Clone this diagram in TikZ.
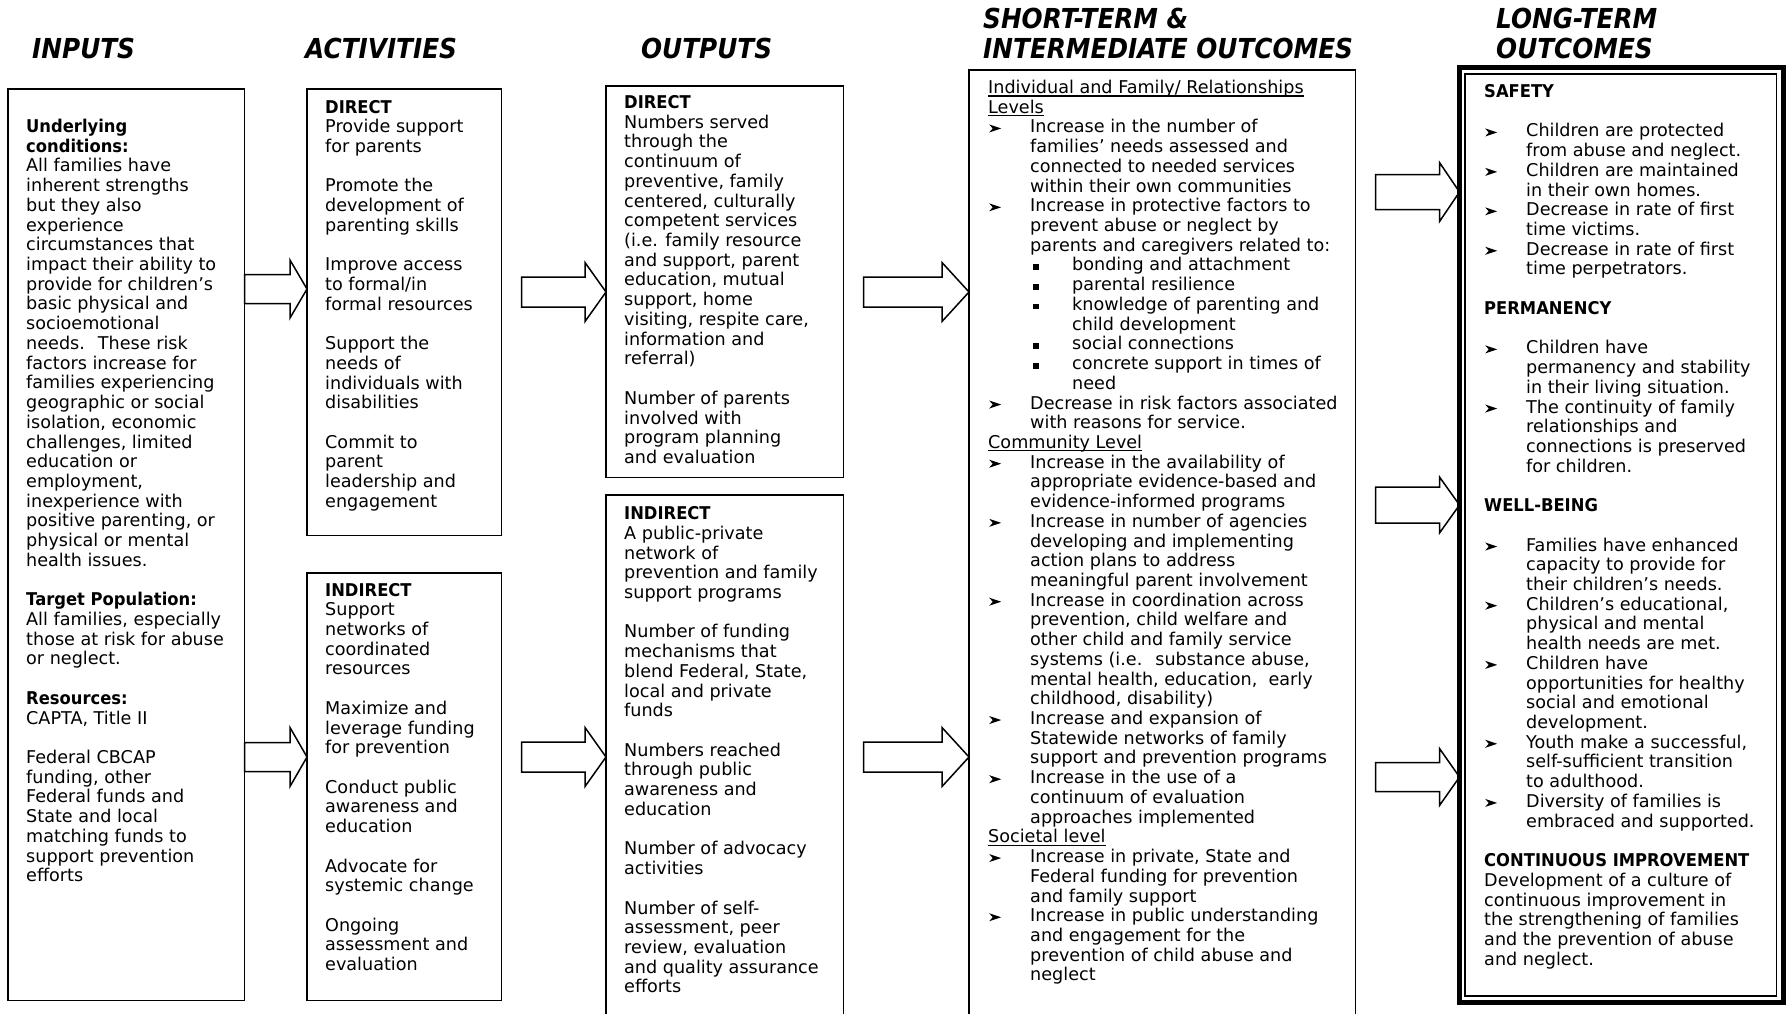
\documentclass[tikz,border=0pt]{standalone}
\usepackage{fontspec}
\setmainfont{DejaVu Sans}
\newfontfamily\bfc{DejaVu Sans}[FakeStretch=0.93]
\newfontfamily\hdf{DejaVu Sans}[FakeStretch=0.9]
\usetikzlibrary{calc}

\newcommand\hbf[1]{{\bfc\bfseries #1}}
\newcommand\hdrfont{\hdf\bfseries\itshape\fontsize{27.5pt}{30pt}\selectfont}
\newcommand\arrbul{\makebox[42pt][l]{\hspace{1pt}\tikz[x=1pt,y=1pt,baseline=0pt]\fill[black] (0,0.5)--(12,4.5)--(0,8.5)--(3.5,4.5)--cycle;}}
\newcommand\sqbul{\hspace*{45pt}\makebox[39pt][l]{\rule[1pt]{5.5pt}{5.5pt}}}
\newcommand\inda{\hspace*{42pt}}
\newcommand\indb{\hspace*{84pt}}
\newcommand\blankln{\mbox{}\\}
\newcommand\uln[1]{\leavevmode\setbox0\hbox{#1}\rlap{\rule[-3pt]{\wd0}{1.2pt}}\box0}
\newenvironment{bodytext}[1]{\begin{minipage}[t]{#1}\fontsize{17.6pt}{19.72pt}\selectfont\lineskiplimit=-100pt\lineskip=0pt\raggedright\parindent=0pt}{\end{minipage}}

% #1 from, #2 to, #3 gap, #4 y centre, #5 half shaft, #6 half head, #7 head length
\newcommand\blockarrow[7]{%
  \draw[barr] ($(#1.east |- 0,#4)+(#3,-#5)$) -- ($(#2.west |- 0,#4)+(-#7,-#5)$)
    -- ($(#2.west |- 0,#4)+(-#7,-#6)$) -- (#2.west |- 0,#4)
    -- ($(#2.west |- 0,#4)+(-#7,#6)$) -- ($(#2.west |- 0,#4)+(-#7,#5)$)
    -- ($(#1.east |- 0,#4)+(#3,#5)$) -- cycle;}

\tikzset{
  box/.style={draw, line width=1.6pt, inner sep=0pt, anchor=north west},
  txt/.style={anchor=base west, inner sep=0pt},
  hdr/.style={anchor=base west, inner sep=0pt, font=\hdrfont},
  barr/.style={draw, fill=white, line width=1.5pt, line join=miter},
}

\begin{document}
\begin{tikzpicture}[x=1pt,y=-1pt]
\useasboundingbox (0,0) rectangle (1786,1013);
\clip (0,0) rectangle (1786,1013);
\fill[white] (0,0) rectangle (1786,1013);

% headers
\node[hdr] (h1) at (32,58) {INPUTS};
\node[hdr] (h2) at (305,58) {ACTIVITIES};
\node[hdr] (h3) at (641,58) {OUTPUTS};
\node[hdr] (h4a) at (983,28) {SHORT-TERM \&};
\node[hdr] (h4b) at (983,58) {INTERMEDIATE OUTCOMES};
\node[hdr] (h5a) at (1496,28) {LONG-TERM};
\node[hdr] (h5b) at (1496,58) {OUTCOMES};

% boxes (coordinates only, drawn after arrows)
\path node[box, draw=none, minimum width=235pt, minimum height=910pt] (inp) at (8,89) {};
\path node[box, draw=none, minimum width=193pt, minimum height=445pt] (actd) at (307,89) {};
\path node[box, draw=none, minimum width=193pt, minimum height=426pt] (acti) at (307,573) {};
\path node[box, draw=none, minimum width=236pt, minimum height=390pt] (outd) at (606,86) {};
\path node[box, draw=none, minimum width=236pt, minimum height=560pt] (outi) at (606,495) {};
\path node[box, draw=none, minimum width=385pt, minimum height=990pt] (st) at (969,70) {};
\path node[box, draw=none, minimum width=322pt, minimum height=933pt] (lt) at (1459.5,67.5) {};

% block arrows
\blockarrow{inp}{actd}{0}{289}{14.5}{29}{17}
\blockarrow{inp}{acti}{0}{757}{14.5}{29.5}{17}
\blockarrow{actd}{outd}{20}{292}{15}{29.5}{21}
\blockarrow{acti}{outi}{20}{757}{15}{29.5}{21}
\blockarrow{outd}{st}{20}{292}{15}{29.5}{27}
\blockarrow{outi}{st}{20}{757}{15}{29.5}{27}
\blockarrow{st}{lt}{20}{192}{17.5}{29.5}{20}
\blockarrow{st}{lt}{20}{505}{18}{28}{20}
\blockarrow{st}{lt}{20}{777}{14.5}{28.5}{20}

% box outlines
\draw[line width=1.6pt] (inp.north west) rectangle (inp.south east);
\draw[line width=1.6pt] (actd.north west) rectangle (actd.south east);
\draw[line width=1.6pt] (acti.north west) rectangle (acti.south east);
\draw[line width=1.6pt] (outd.north west) rectangle (outd.south east);
\draw[line width=1.6pt] (outi.north west) rectangle (outi.south east);
\draw[line width=1.6pt] (st.north west) rectangle (st.south east);
\draw[line width=5pt] (lt.north west) rectangle (lt.south east);
\draw[line width=1.6pt] ([shift={(5.5,6.5)}]lt.north west) rectangle ([shift={(-6.5,-6)}]lt.south east);

% inputs text
\node[txt] (tin) at (26,132.5) {\begin{bodytext}{215pt}
\hbf{Underlying}\\
\hbf{conditions:}\\
All families have\\
inherent strengths\\
but they also\\
experience\\
circumstances that\\
impact their ability to\\
provide for children’s\\
basic physical and\\
socioemotional\\
needs.~ These risk\\
factors increase for\\
families experiencing\\
geographic or social\\
isolation, economic\\
challenges, limited\\
education or\\
employment,\\
inexperience with\\
positive parenting, or\\
physical or mental\\
health issues.\\
\blankln
\hbf{Target Population:}\\
All families, especially\\
those at risk for abuse\\
or neglect.\\
\blankln
\hbf{Resources:}\\
CAPTA, Title II\\
\blankln
Federal CBCAP\\
funding, other\\
Federal funds and\\
State and local\\
matching funds to\\
support prevention\\
efforts
\end{bodytext}};

% activities direct
\node[txt] (tad) at (325,113) {\begin{bodytext}{175pt}
\hbf{DIRECT}\\
Provide support\\
for parents\\
\blankln
Promote the\\
development of\\
parenting skills\\
\blankln
Improve access\\
to formal/in\\
formal resources\\
\blankln
Support the\\
needs of\\
individuals with\\
disabilities\\
\blankln
Commit to\\
parent\\
leadership and\\
engagement
\end{bodytext}};

% activities indirect
\node[txt] (tai) at (325,596) {\begin{bodytext}{175pt}
\hbf{INDIRECT}\\
Support\\
networks of\\
coordinated\\
resources\\
\blankln
Maximize and\\
leverage funding\\
for prevention\\
\blankln
Conduct public\\
awareness and\\
education\\
\blankln
Advocate for\\
systemic change\\
\blankln
Ongoing\\
assessment and\\
evaluation
\end{bodytext}};

% outputs direct
\node[txt] (tod) at (624,108.5) {\begin{bodytext}{215pt}
\hbf{DIRECT}\\
Numbers served\\
through the\\
continuum of\\
preventive, family\\
centered, culturally\\
competent services\\
(i.e. family resource\\
and support, parent\\
education, mutual\\
support, home\\
visiting, respite care,\\
information and\\
referral)\\
\blankln
Number of parents\\
involved with\\
program planning\\
and evaluation
\end{bodytext}};

% outputs indirect
\node[txt] (toi) at (624,519.6) {\begin{bodytext}{215pt}
\hbf{INDIRECT}\\
A public-private\\
network of\\
prevention and family\\
support programs\\
\blankln
Number of funding\\
mechanisms that\\
blend Federal, State,\\
local and private\\
funds\\
\blankln
Numbers reached\\
through public\\
awareness and\\
education\\
\blankln
Number of advocacy\\
activities\\
\blankln
Number of self-\\
assessment, peer\\
review, evaluation\\
and quality assurance\\
efforts
\end{bodytext}};

% short-term outcomes
\node[txt] (tst) at (988,93.5) {\begin{bodytext}{362pt}
\uln{Individual and Family/ Relationships}\\
\uln{Levels}\\
\arrbul Increase in the number of\\
\inda families’ needs assessed and\\
\inda connected to needed services\\
\inda within their own communities\\
\arrbul Increase in protective factors to\\
\inda prevent abuse or neglect by\\
\inda parents and caregivers related to:\\
\sqbul bonding and attachment\\
\sqbul parental resilience\\
\sqbul knowledge of parenting and\\
\indb child development\\
\sqbul social connections\\
\sqbul concrete support in times of\\
\indb need\\
\arrbul Decrease in risk factors associated\\
\inda with reasons for service.\\
\uln{Community Level}\\
\arrbul Increase in the availability of\\
\inda appropriate evidence-based and\\
\inda evidence-informed programs\\
\arrbul Increase in number of agencies\\
\inda developing and implementing\\
\inda action plans to address\\
\inda meaningful parent involvement\\
\arrbul Increase in coordination across\\
\inda prevention, child welfare and\\
\inda other child and family service\\
\inda systems (i.e.~ substance abuse,\\
\inda mental health, education,~ early\\
\inda childhood, disability)\\
\arrbul Increase and expansion of\\
\inda Statewide networks of family\\
\inda support and prevention programs\\
\arrbul Increase in the use of a\\
\inda continuum of evaluation\\
\inda approaches implemented\\
\uln{Societal level}\\
\arrbul Increase in private, State and\\
\inda Federal funding for prevention\\
\inda and family support\\
\arrbul Increase in public understanding\\
\inda and engagement for the\\
\inda prevention of child abuse and\\
\inda neglect
\end{bodytext}};

% long-term outcomes
\node[txt] (tlt) at (1484,97.5) {\begin{bodytext}{290pt}
\hbf{SAFETY}\\
\blankln
\arrbul Children are protected\\
\inda from abuse and neglect.\\
\arrbul Children are maintained\\
\inda in their own homes.\\
\arrbul Decrease in rate of first\\
\inda time victims.\\
\arrbul Decrease in rate of first\\
\inda time perpetrators.\\
\blankln
\hbf{PERMANENCY}\\
\blankln
\arrbul Children have\\
\inda permanency and stability\\
\inda in their living situation.\\
\arrbul The continuity of family\\
\inda relationships and\\
\inda connections is preserved\\
\inda for children.\\
\blankln
\hbf{WELL-BEING}\\
\blankln
\arrbul Families have enhanced\\
\inda capacity to provide for\\
\inda their children’s needs.\\
\arrbul Children’s educational,\\
\inda physical and mental\\
\inda health needs are met.\\
\arrbul Children have\\
\inda opportunities for healthy\\
\inda social and emotional\\
\inda development.\\
\arrbul Youth make a successful,\\
\inda self-sufficient transition\\
\inda to adulthood.\\
\arrbul Diversity of families is\\
\inda embraced and supported.\\
\blankln
\hbf{CONTINUOUS IMPROVEMENT}\\
Development of a culture of\\
continuous improvement in\\
the strengthening of families\\
and the prevention of abuse\\
and neglect.
\end{bodytext}};
\end{tikzpicture}
\end{document}
